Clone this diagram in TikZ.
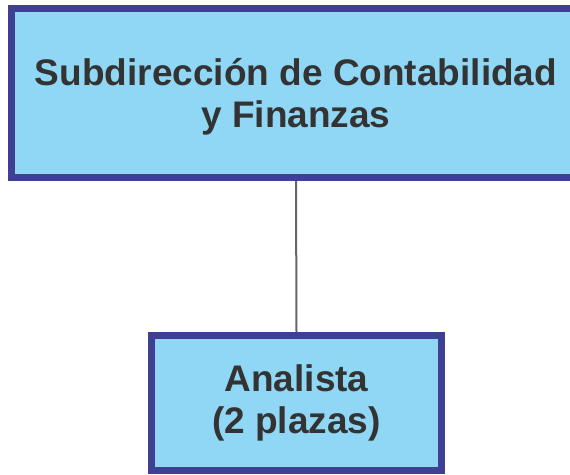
\documentclass[tikz,border=0pt]{standalone}
\usepackage{fontspec}
\setmainfont{Liberation Sans}
\definecolor{borde}{HTML}{3F3F94}
\definecolor{relleno}{HTML}{8FD7F5}
\definecolor{texto}{HTML}{333333}
\tikzstyle{caja} = [draw=borde,fill=relleno,line width=7pt,align=center,
  text=texto,font=\bfseries\fontsize{37}{42}\selectfont,inner sep=0pt]
\tikzstyle{linea} = [draw,line width=2pt,black!60]

\begin{document}
\begin{tikzpicture}[x=1pt,y=-1pt]
\useasboundingbox (0,0) rectangle (570,474);
\clip (0,0) rectangle (570,474);
\node[caja,minimum width=569pt,minimum height=169pt,text depth=-5pt] (sub) at (296,93)
  {Subdirección de Contabilidad\\y Finanzas};
\node[caja,minimum width=290pt,minimum height=135pt] (analista) at (296.5,403)
  {Analista\\(2 plazas)};
\path[linea] (sub.south) -- (analista.north);
\end{tikzpicture}
\end{document}
